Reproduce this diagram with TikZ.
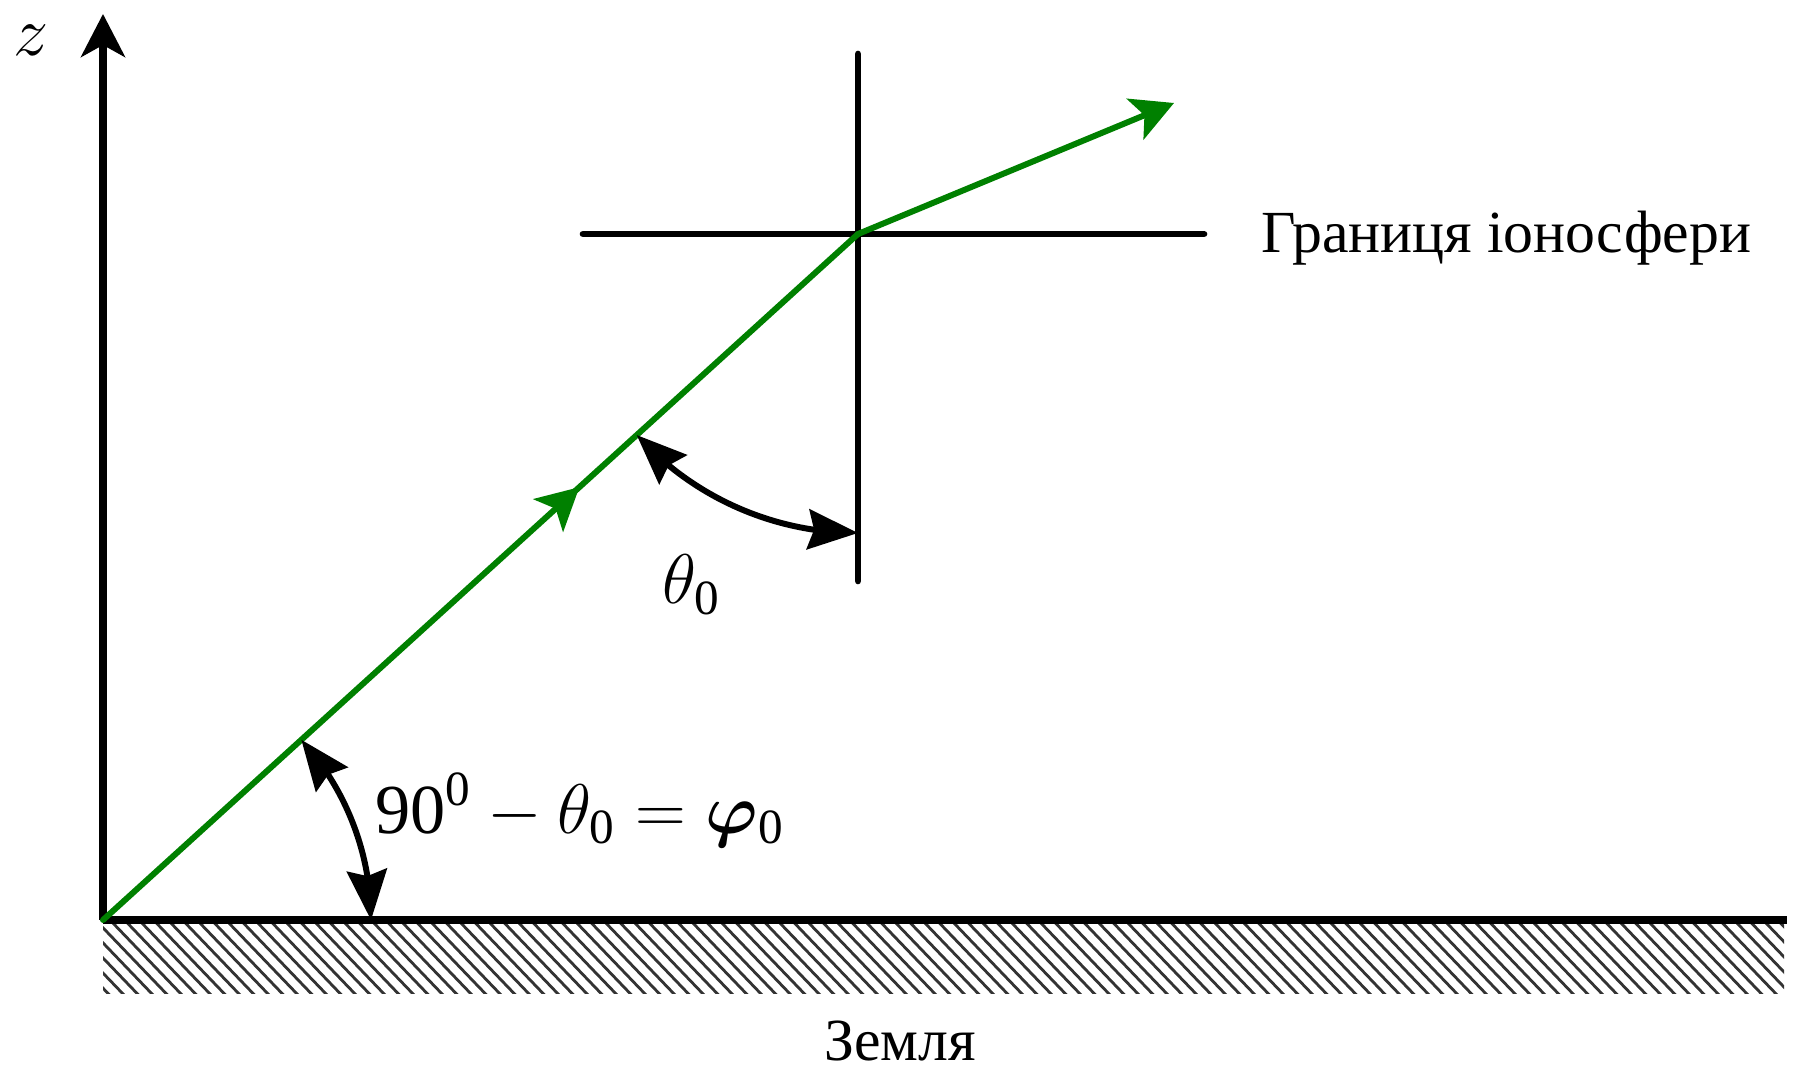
\RequirePackage{fix-cm}
\documentclass[tikz,border=0pt]{standalone}
\usepackage{amsmath}
\usepackage{fontspec}
\setmainfont{Liberation Serif}
\usepackage{bm}
\usetikzlibrary{arrows.meta, bending, decorations.markings, calc}
\definecolor{raygreen}{RGB}{0,128,0}
\tikzset{
    axis/.style={line width=2pt, -{Stealth[length=4.3mm, width=4.4mm, inset=1.2mm]}},
    ground/.style={line width=2pt},
    boundary/.style={line width=1.9pt, line cap=round},
    ray/.style={raygreen, line width=1.7pt, line cap=round, line join=round},
    raytip/.style={-{Stealth[length=4.2mm, width=4.4mm, inset=1mm]}},
    anglearc/.style={line width=1.7pt,
        {Stealth[length=5mm, width=4mm, inset=0.6mm]}-{Stealth[length=5mm, width=4mm, inset=0.6mm]}},
    hatchline/.style={line width=0.8pt, black!80},
    lbl/.style={font=\fontsize{17}{20}\selectfont, inner sep=0pt},
    mlbl/.style={font=\fontsize{20}{24}\selectfont, inner sep=0pt},
}
\newcommand{\rmd}[1]{\textrm{#1}}
\begin{document}
\begin{tikzpicture}

    \useasboundingbox (-1.03,-1.48) rectangle (16.90,9.20);

    % ── Key points ─────────────────────────────────────────────────
    \coordinate (O)    at (0,0);
    \coordinate (ztop) at (0,9.06);
    \coordinate (gend) at (16.84,0);
    \coordinate (P)    at (7.55,6.86);
    \coordinate (T)    at (10.71,8.17);
    \coordinate (vtop) at (7.55,8.66);
    \coordinate (vbot) at (7.55,3.39);
    \coordinate (hl)   at (4.80,6.86);
    \coordinate (hr)   at (11.01,6.86);

    % ── Earth hatching ─────────────────────────────────────────────
    \begin{scope}
        \clip (0,-0.73) rectangle (16.81,0);
        \foreach \x in {-0.80,-0.655,...,16.90}
            \draw[hatchline] (\x,0) -- ++(0.73,-0.76);
    \end{scope}

    % ── Axes ───────────────────────────────────────────────────────
    \draw[axis]   (O) -- (ztop);
    \draw[ground] (O) -- (gend);

    % ── Ionosphere boundary ────────────────────────────────────────
    \draw[boundary] (hl) -- (hr);
    \draw[boundary] (vtop) -- (vbot);

    % ── Ray ────────────────────────────────────────────────────────
    \draw[ray, postaction={decorate}, decoration={markings,
          mark=at position 0.631 with {\arrow{Stealth[length=4.2mm, width=4.4mm, inset=1mm]}}}]
          (O) -- (P);
    \draw[ray, raytip] (P) -- (T);

    % ── Angles ─────────────────────────────────────────────────────
    \draw[anglearc] ($(P)+(270:2.99)$) arc[start angle=270, end angle=222.26, radius=2.99];
    \draw[anglearc] ($(O)+(0:2.68)$) arc[start angle=0, end angle=42.26, radius=2.68];

    % ── Labels ─────────────────────────────────────────────────────
    \node[mlbl] (zlbl)  at (-0.72,8.80) {$z$};
    \node[mlbl] (theta) at (5.89,3.35) {$\theta_{\rmd{0}}$};
    \node[mlbl] (phi)   at (4.77,1.10) {$\rmd{90}^{\rmd{0}}-\theta_{\rmd{0}}=\bm{\varphi}_{\rmd{0}}$};
    \node[lbl, anchor=base west] (iono)  at (11.58,6.67) {Границя іоносфери};
    \node[lbl, anchor=base]      (earth) at (7.97,-1.40) {Земля};

\end{tikzpicture}
\end{document}
